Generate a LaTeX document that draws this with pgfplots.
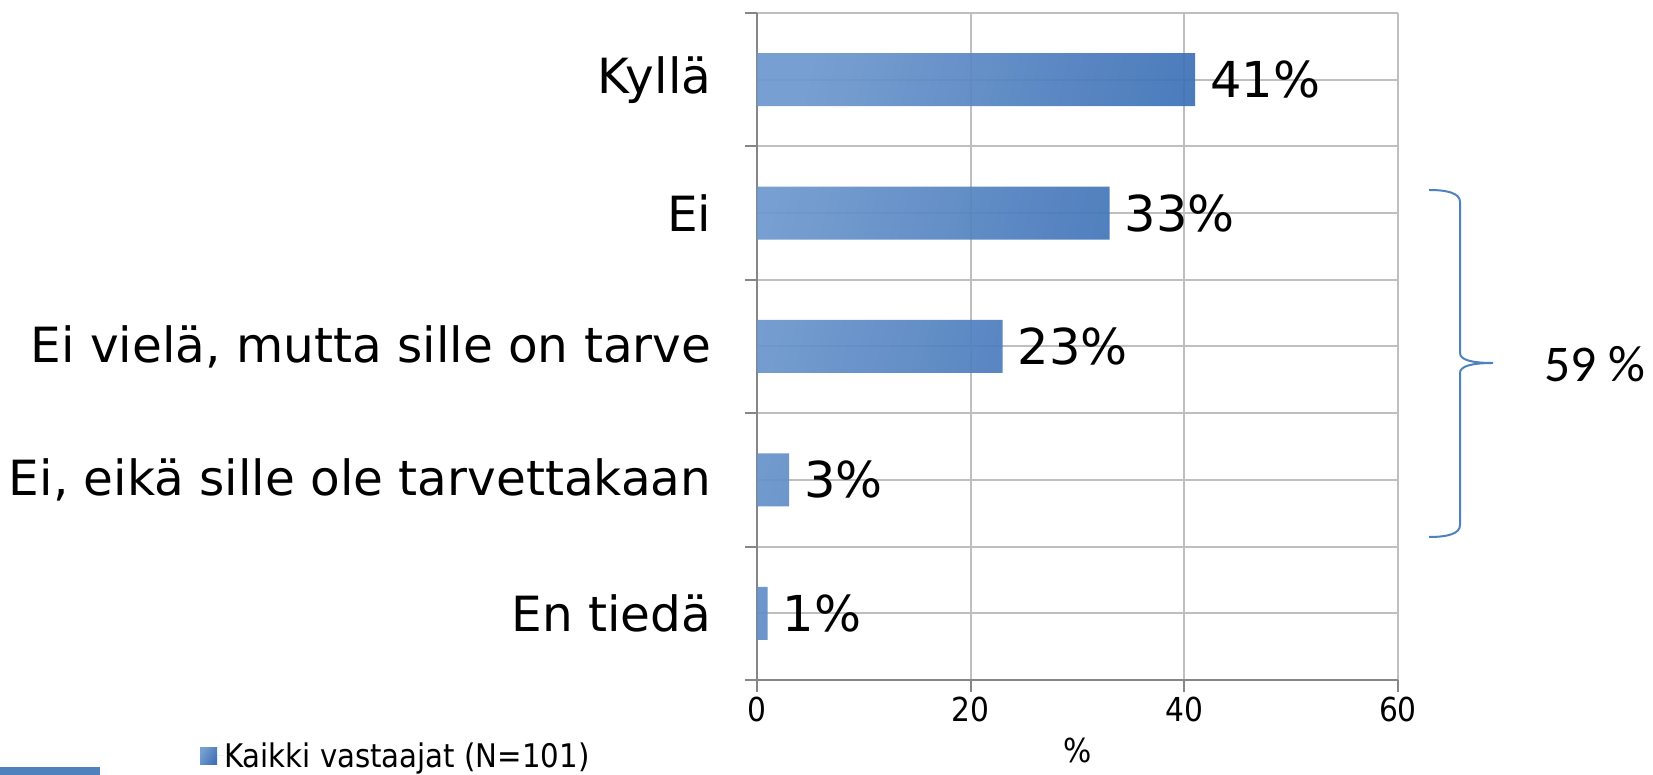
\documentclass[border=0pt]{standalone}
\usepackage{fontspec}
\setmainfont{DejaVu Sans}
\newfontfamily\condfont{DejaVu Sans Condensed}
\newfontfamily\carlito{Carlito}
\usepackage{pgfplots}
\pgfplotsset{compat=1.18}
\definecolor{barlight}{RGB}{110,152,205}
\definecolor{bardark}{RGB}{50,104,177}
\definecolor{gridgrey}{RGB}{191,191,191}
\definecolor{axisgrey}{RGB}{134,134,134}
\definecolor{braceblue}{RGB}{79,129,189}
\begin{document}
\begin{tikzpicture}
\begin{axis}[
  at={(0pt,0pt)}, anchor=south west,
  scale only axis, width=641pt, height=667pt,
  xbar, bar width=53pt,
  xmin=0, xmax=60, ymin=-0.5, ymax=4.5,
  xtick={0,20,40,60},
  ytick={0,1,2,3,4},
  yticklabels={En tiedä, {Ei, eikä sille ole tarvettakaan}, {Ei vielä, mutta sille on tarve}, Ei, Kyllä},
  minor ytick={-0.5,0.5,1.5,2.5,3.5,4.5},
  grid=both,
  major grid style={draw=gridgrey, line width=2pt},
  minor grid style={draw=gridgrey, line width=2pt},
  major tick length=12pt, minor tick length=12pt,
  tick align=outside,
  major y tick style={draw=none},
  minor y tick style={draw=axisgrey, line width=2pt},
  major x tick style={draw=axisgrey, line width=2pt},
  axis x line*=bottom, axis y line*=left,
  axis line style={-, draw=axisgrey, line width=2pt},
  /pgf/number format/assume math mode=true,
  yticklabel style={font=\fontsize{48.5}{58}\selectfont, inner sep=0pt, xshift=-33.5pt},
  xticklabel style={font=\condfont\fontsize{33}{40}\selectfont, inner sep=0pt, yshift=-5pt},
  xlabel={\%},
  xlabel style={font=\condfont\fontsize{33}{40}\selectfont, at={(axis description cs:0.5,-0.105)}, anchor=center},
  point meta=x,
  nodes near coords={\pgfmathprintnumber{\pgfplotspointmeta}\%},
  nodes near coords align={horizontal},
  every node near coord/.append style={font=\fontsize{49.5}{58}\selectfont, black, anchor=west, inner sep=0pt, xshift=15pt},
  legend style={at={(axis description cs:-0.869,-0.1135)}, anchor=west, draw=none, fill=none, inner sep=0pt,
    font=\condfont\fontsize{32.5}{40}\selectfont, nodes={inner sep=0pt}},
  legend cell align=left,
  legend image code/.code={\path[left color=barlight, right color=bardark, shading angle=60] (0pt,-8.5pt) rectangle (17pt,8.5pt);
    \path (0pt,0pt) -- (24pt,0pt);},
]
\addplot[draw=none, left color=barlight, right color=bardark, shading angle=75, fill opacity=0.93, text opacity=1]
  coordinates {(1,0) (3,1) (23,2) (33,3) (41,4)};
\addlegendentry{Kaikki vastaajat (N=101)}
\end{axis}
\draw[braceblue, line width=2pt]
  (672pt,490pt) .. controls (690pt,490pt) and (703pt,487pt) .. (703pt,478pt)
  -- (703pt,327pt) .. controls (703pt,320pt) and (715pt,317pt) .. (736pt,317pt)
  .. controls (715pt,317pt) and (703pt,314pt) .. (703pt,307pt)
  -- (703pt,155pt) .. controls (703pt,146pt) and (690pt,143pt) .. (672pt,143pt);
\node[anchor=west, inner sep=0pt, font=\carlito\fontsize{51.5}{60}\selectfont] at (787pt,316pt) {59 \%};
\fill[braceblue] (-757pt,-87pt) rectangle (-657pt,-95pt);
\pgfresetboundingbox
\path[use as bounding box] (-757pt,-95pt) rectangle (896pt,680pt);
\end{tikzpicture}
\end{document}
